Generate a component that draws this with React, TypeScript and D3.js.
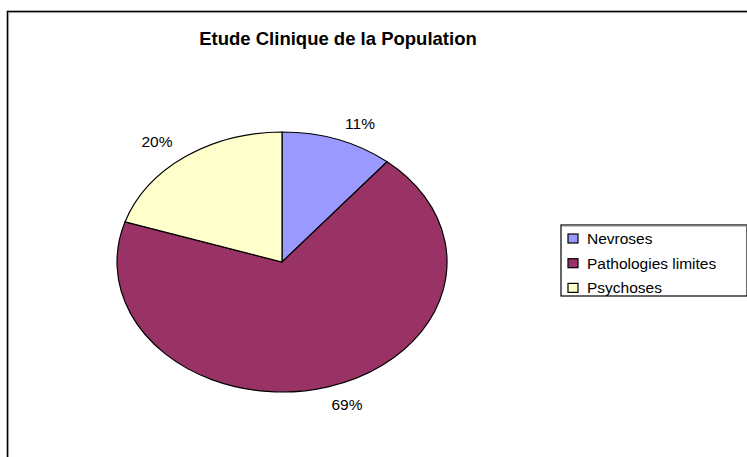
import React from "react";
import * as d3 from "d3";

const categories = ["Nevroses", "Pathologies limites", "Psychoses"];
const values = [11, 69, 20];
const labels = ["11%", "69%", "20%"];
const colors = ["#9999FF", "#993366", "#FFFFCC"];
const title = "Etude Clinique de la Population";

const W = 747;
const H = 457;
const cx = 282;
const cy = 262;
const rx = 165;
const ry = 130;
const FONT = "'Liberation Sans', Arial, sans-serif";

export default function App() {
  const pie = d3.pie<number>().sort(null).value((d) => d)(values);
  const arc = d3.arc<d3.PieArcDatum<number>>().innerRadius(0).outerRadius(1);
  const labelPos = [
    { x: 360, y: 129 },
    { x: 347, y: 410 },
    { x: 157, y: 147 },
  ];
  return (
    <svg
      width={W}
      height={H}
      style={{ position: "absolute", left: 0, top: 0, background: "#fff" }}
      fontFamily={FONT}
    >
      <rect x={7.5} y={11.5} width={W + 20} height={H + 20} fill="#fff" stroke="#000" strokeWidth={1.6} />
      <rect x={8.7} y={12.7} width={W + 20} height={H + 20} fill="none" stroke="#999" strokeWidth={0.8} />
      <text x={338} y={45} textAnchor="middle" fontWeight="bold" fontSize={18.5} fill="#000">
        {title}
      </text>
      <g transform={`translate(${cx},${cy}) scale(${rx},${ry})`}>
        {pie.map((p, i) => (
          <path
            key={i}
            d={arc(p) || ""}
            fill={colors[i]}
            stroke="#000"
            strokeWidth={1.2}
            vectorEffect="non-scaling-stroke"
          />
        ))}
      </g>
      {pie.map((p, i) => (
        <text key={i} x={labelPos[i].x} y={labelPos[i].y} textAnchor="middle" fontSize={15.5} fill="#000">
          {labels[i]}
        </text>
      ))}
      <rect x={561} y={225} width={186} height={71} fill="#fff" stroke="#000" strokeWidth={1.2} />
      <line x1={562} y1={226} x2={747} y2={226} stroke="#888" strokeWidth={1} />
      {categories.map((c, i) => (
        <g key={c} transform={`translate(0,${238.5 + i * 24.7})`}>
          <rect x={568} y={-4.5} width={10} height={9} fill={colors[i]} stroke="#000" strokeWidth={1.2} />
          <text x={587} y={5.5} fontSize={15.5} fill="#000">
            {c}
          </text>
        </g>
      ))}
    </svg>
  );
}
